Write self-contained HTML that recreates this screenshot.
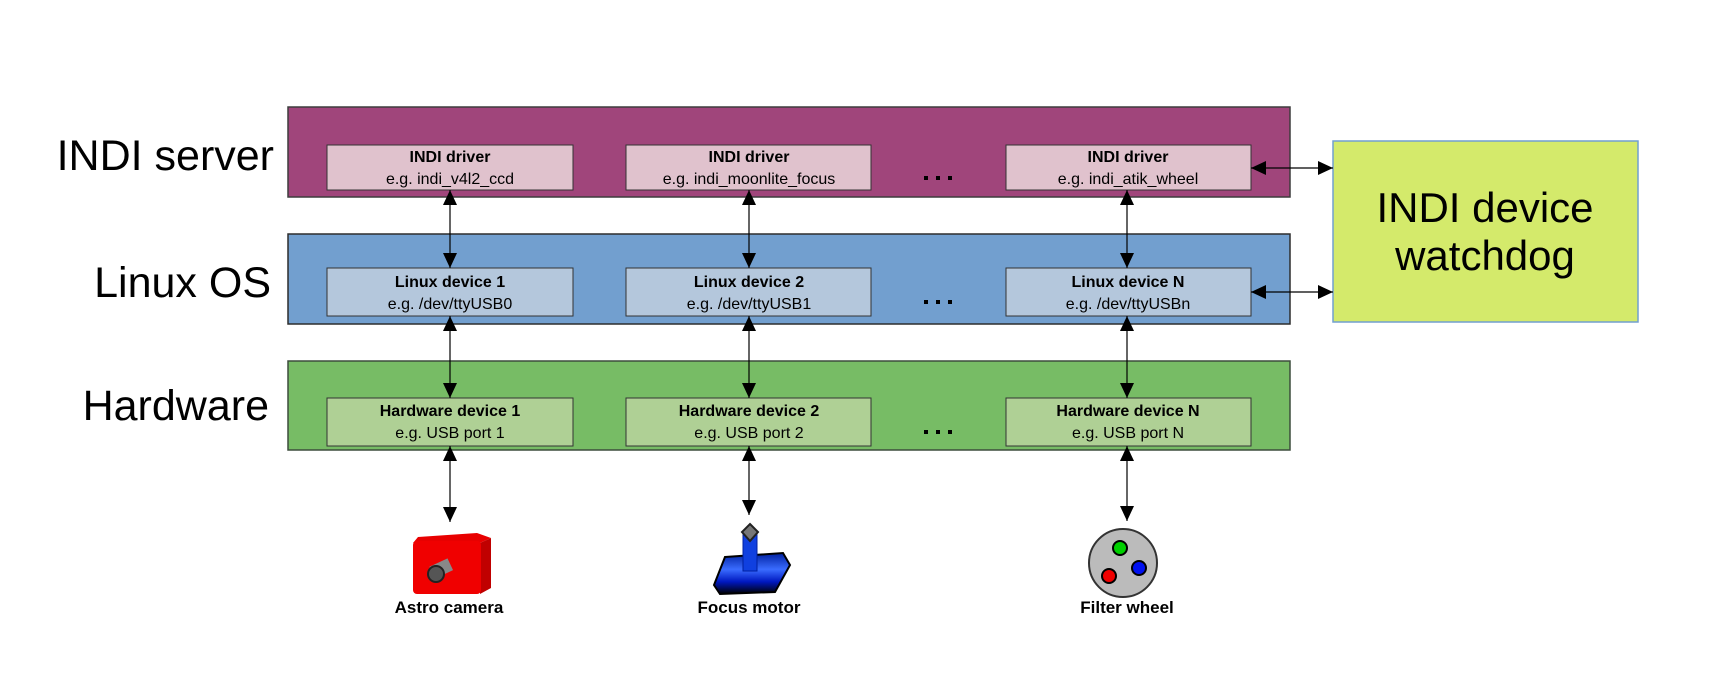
<!DOCTYPE html>
<html><head><meta charset="utf-8"><style>
html,body{margin:0;padding:0;background:#fff;}
svg{display:block;}
text{font-family:"Liberation Sans",sans-serif;}
</style></head><body>
<svg width="1714" height="691" viewBox="0 0 1714 691" xmlns="http://www.w3.org/2000/svg">
<defs>
<marker id="a" viewBox="0 0 10 10" refX="10" refY="5" markerWidth="15" markerHeight="14" markerUnits="userSpaceOnUse" orient="auto-start-reverse" preserveAspectRatio="none"><path d="M0,0 L10,5 L0,10 z" fill="#000"/></marker>
<linearGradient id="bl" x1="0" y1="0" x2="0" y2="1"><stop offset="0" stop-color="#0020a0"/><stop offset="0.4" stop-color="#3a6cff"/><stop offset="0.7" stop-color="#0018c0"/><stop offset="1" stop-color="#000"/></linearGradient>
</defs>
<text x="274" y="170" font-size="43" text-anchor="end">INDI server</text>
<text x="271" y="297" font-size="43" text-anchor="end">Linux OS</text>
<text x="269" y="420" font-size="43" text-anchor="end">Hardware</text>
<rect x="288" y="107" width="1002" height="90" fill="#a0457b" stroke="#3d3d3d" stroke-width="1.5"/>
<rect x="288" y="234" width="1002" height="90" fill="#729fcf" stroke="#2d2d2d" stroke-width="1.5"/>
<rect x="288" y="361" width="1002" height="89" fill="#77bc65" stroke="#3d4d3d" stroke-width="1.5"/>
<g stroke="#333" stroke-width="1">
<rect x="327" y="145" width="246" height="45" fill="#e0c2cd"/>
<rect x="626" y="145" width="245" height="45" fill="#e0c2cd"/>
<rect x="1006" y="145" width="245" height="45" fill="#e0c2cd"/>
<rect x="327" y="268" width="246" height="48" fill="#b4c7dc"/>
<rect x="626" y="268" width="245" height="48" fill="#b4c7dc"/>
<rect x="1006" y="268" width="245" height="48" fill="#b4c7dc"/>
<rect x="327" y="398" width="246" height="48" fill="#afd095"/>
<rect x="626" y="398" width="245" height="48" fill="#afd095"/>
<rect x="1006" y="398" width="245" height="48" fill="#afd095"/>
</g>
<g font-size="16" text-anchor="middle">
<text x="450" y="162" font-weight="bold">INDI driver</text><text x="450" y="184">e.g. indi_v4l2_ccd</text>
<text x="749" y="162" font-weight="bold">INDI driver</text><text x="749" y="184">e.g. indi_moonlite_focus</text>
<text x="1128" y="162" font-weight="bold">INDI driver</text><text x="1128" y="184">e.g. indi_atik_wheel</text>
<text x="450" y="287" font-weight="bold">Linux device 1</text><text x="450" y="309">e.g. /dev/ttyUSB0</text>
<text x="749" y="287" font-weight="bold">Linux device 2</text><text x="749" y="309">e.g. /dev/ttyUSB1</text>
<text x="1128" y="287" font-weight="bold">Linux device N</text><text x="1128" y="309">e.g. /dev/ttyUSBn</text>
<text x="450" y="416" font-weight="bold">Hardware device 1</text><text x="450" y="438">e.g. USB port 1</text>
<text x="749" y="416" font-weight="bold">Hardware device 2</text><text x="749" y="438">e.g. USB port 2</text>
<text x="1128" y="416" font-weight="bold">Hardware device N</text><text x="1128" y="438">e.g. USB port N</text>
</g>
<g fill="#000">
<rect x="924" y="176" width="4" height="4"/><rect x="936" y="176" width="4" height="4"/><rect x="948" y="176" width="4" height="4"/>
<rect x="924" y="300" width="4" height="4"/><rect x="936" y="300" width="4" height="4"/><rect x="948" y="300" width="4" height="4"/>
<rect x="924" y="430" width="4" height="4"/><rect x="936" y="430" width="4" height="4"/><rect x="948" y="430" width="4" height="4"/>
</g>
<rect x="1333" y="141" width="305" height="181" fill="#d4ea6b" stroke="#729fcf" stroke-width="1.5"/>
<text x="1485" y="222" font-size="42" text-anchor="middle">INDI device</text>
<text x="1485" y="270" font-size="42" text-anchor="middle">watchdog</text>
<g stroke="#000" stroke-width="1.2" marker-start="url(#a)" marker-end="url(#a)">
<line x1="450" y1="190" x2="450" y2="268"/>
<line x1="749" y1="190" x2="749" y2="268"/>
<line x1="1127" y1="190" x2="1127" y2="268"/>
<line x1="450" y1="316" x2="450" y2="398"/>
<line x1="749" y1="316" x2="749" y2="398"/>
<line x1="1127" y1="316" x2="1127" y2="398"/>
<line x1="450" y1="446" x2="450" y2="522"/>
<line x1="749" y1="446" x2="749" y2="515"/>
<line x1="1127" y1="446" x2="1127" y2="521"/>
<line x1="1251" y1="168" x2="1333" y2="168"/>
<line x1="1251" y1="292" x2="1333" y2="292"/>
</g>
<!-- camera -->
<path d="M418,537 L477,533 L491,538 L480,543 L413,543 Z" fill="#e80000"/>
<path d="M480,543 L491,538 L491,588 L480,594 Z" fill="#c00000"/>
<rect x="413" y="541" width="68" height="53" rx="4" fill="#f00000"/>
<rect x="431" y="562" width="20" height="13" fill="#888" transform="rotate(-25 441 568)"/>
<circle cx="436" cy="574" r="8" fill="#555" stroke="#222" stroke-width="2"/>
<!-- focus motor -->
<path d="M725,557 L783,553 L790,565 L775,592 L720,594 L714,585 Z" fill="url(#bl)" stroke="#000" stroke-width="2"/>
<rect x="743" y="534" width="14" height="37" fill="#1040e0" stroke="#0020a0"/>
<path d="M750,524 L758,532 L750,541 L742,532 Z" fill="#777" stroke="#222" stroke-width="2"/>
<!-- filter wheel -->
<ellipse cx="1123" cy="563" rx="34" ry="34" fill="#bbb" stroke="#333" stroke-width="2"/>
<circle cx="1120" cy="548" r="7" fill="#00d000" stroke="#000" stroke-width="2"/>
<circle cx="1139" cy="568" r="7" fill="#0010f0" stroke="#000" stroke-width="2"/>
<circle cx="1109" cy="576" r="7" fill="#f00000" stroke="#000" stroke-width="2"/>
<g font-size="17" font-weight="bold" text-anchor="middle">
<text x="449" y="613">Astro camera</text>
<text x="749" y="613">Focus motor</text>
<text x="1127" y="613">Filter wheel</text>
</g>
</svg>
</body></html>
